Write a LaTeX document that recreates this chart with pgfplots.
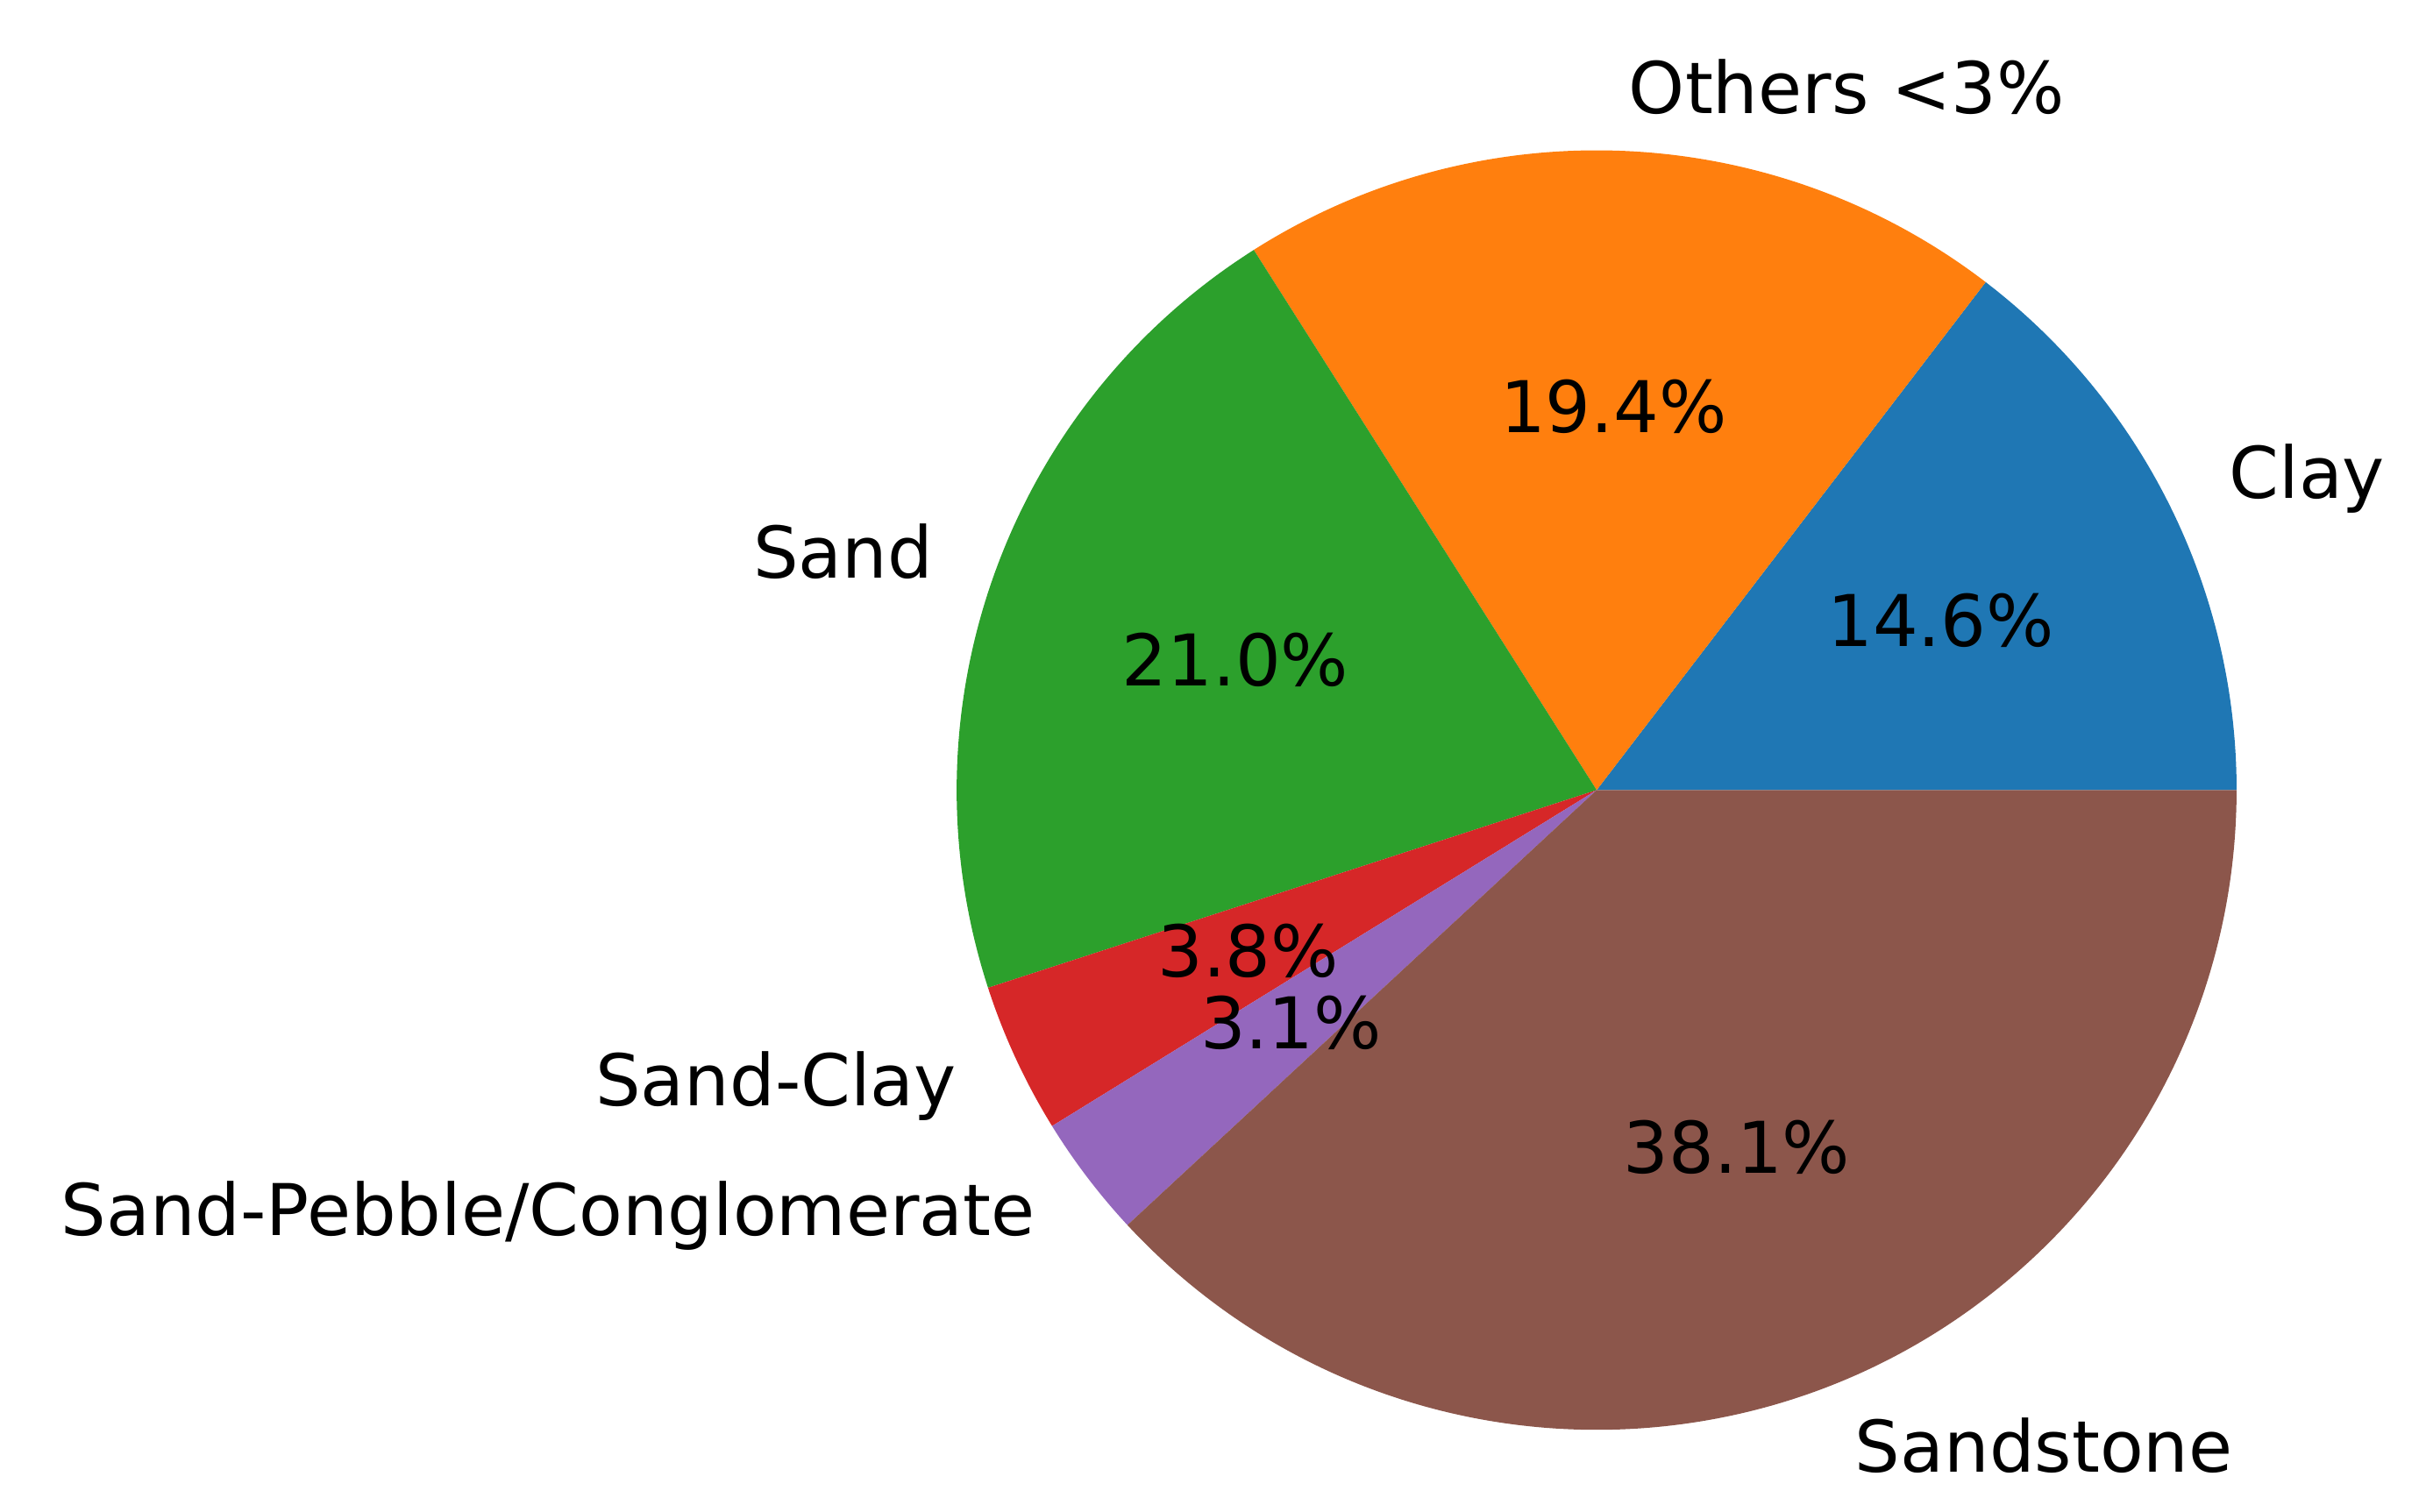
\documentclass[border=0pt]{standalone}
\usepackage{pgfplots}
\pgfplotsset{compat=1.18}
\usepackage{fontspec}
\setmainfont{DejaVu Sans}
\definecolor{c1}{HTML}{1F77B4}
\definecolor{c2}{HTML}{FF7F0E}
\definecolor{c3}{HTML}{2CA02C}
\definecolor{c4}{HTML}{D62728}
\definecolor{c5}{HTML}{9467BD}
\definecolor{c6}{HTML}{8C564B}
% wedge: start (cumulative %), share (%), colour
\newcommand{\piewedge}[3]{%
  \fill[#3] (axis cs:0,0) -- (axis cs:{cos(#1*3.6)},{sin(#1*3.6)})
    arc[start angle={#1*3.6}, end angle={(#1+#2)*3.6}, radius=89.68pt] -- cycle;
}
% labels: start (cumulative %), share (%), label, side anchor
\newcommand{\pielabel}[4]{%
  \node[anchor=#4, inner sep=0pt] at (axis cs:{1.1*cos((#1+#2/2)*3.6)},{1.1*sin((#1+#2/2)*3.6)}) {#3};
  \node[inner sep=0pt] at (axis cs:{0.6*cos((#1+#2/2)*3.6)},{0.6*sin((#1+#2/2)*3.6)}) {#2\%};
}
\begin{document}
\begin{tikzpicture}[font=\fontsize{10}{12}\selectfont]
\begin{axis}[
  x=89.68pt, y=89.68pt,
  xmin=-2.495, xmax=1.296, ymin=-1.128, ymax=1.235,
  hide axis, clip=false,
]
\path (axis cs:-2.495,-1.128) rectangle (axis cs:1.296,1.235);
\piewedge{0}{14.6}{c1}
\piewedge{14.6}{19.4}{c2}
\piewedge{34.0}{21.0}{c3}
\piewedge{55.0}{3.8}{c4}
\piewedge{58.8}{3.1}{c5}
\piewedge{61.9}{38.1}{c6}
\pielabel{0}{14.6}{Clay}{west}
\pielabel{14.6}{19.4}{Others <3\%}{west}
\pielabel{34.0}{21.0}{Sand}{east}
\pielabel{55.0}{3.8}{Sand-Clay}{east}
\pielabel{58.8}{3.1}{Sand-Pebble/Conglomerate}{east}
\pielabel{61.9}{38.1}{Sandstone}{west}
\end{axis}
\end{tikzpicture}
\end{document}
